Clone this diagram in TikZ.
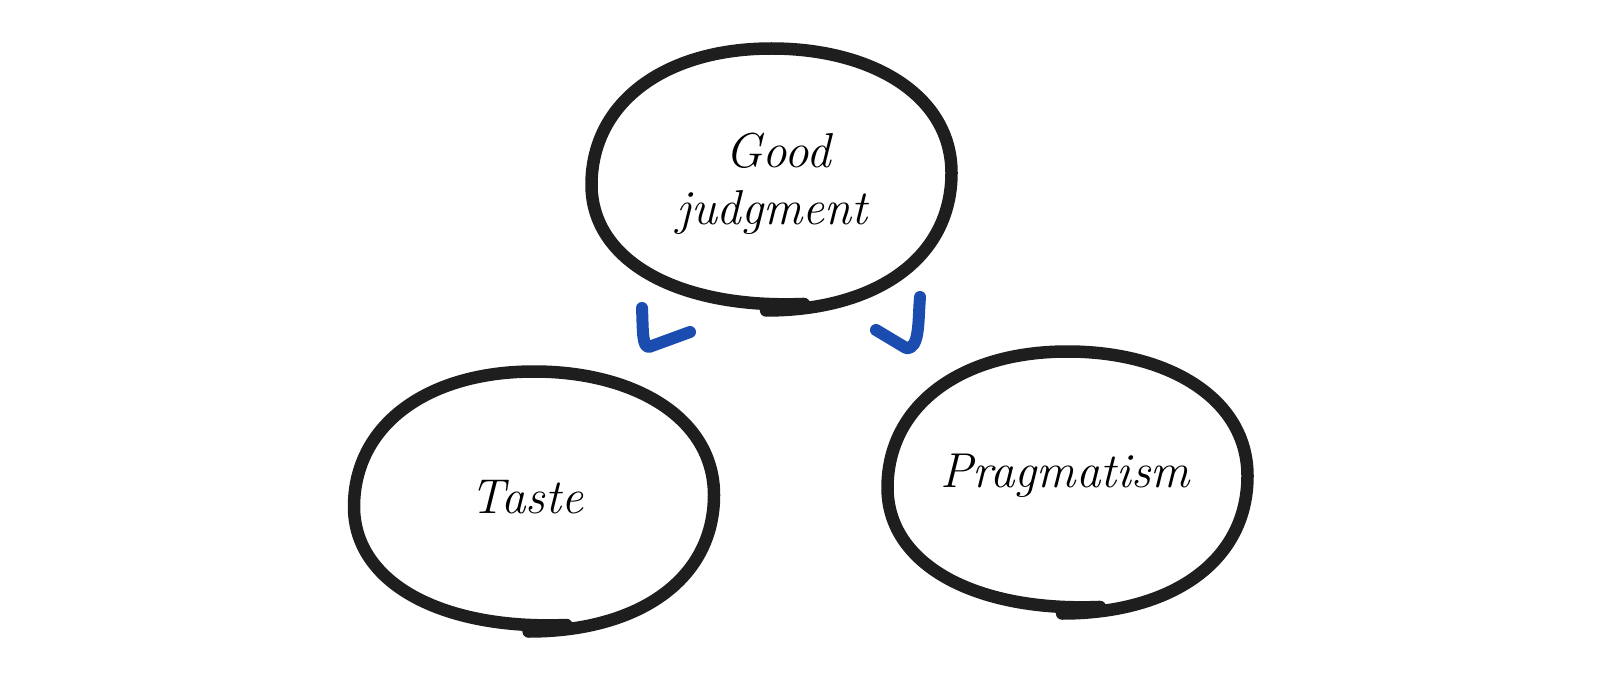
\documentclass[tikz,border=0pt]{standalone}
\usepackage{fontspec}
\definecolor{inkblack}{HTML}{1E1E1E}
\definecolor{markblue}{HTML}{1A4DAF}
\tikzset{
  blobline/.style={line width=12.5pt, draw=inkblack, line cap=round, line join=round},
  blobshape/.pic={
    \draw[blobline] (-0.03,1.0) .. controls (0.58,1.0) and (1.0,0.6) .. (1.0,-0.05)
      .. controls (1.0,-0.64) and (0.56,-1.0) .. (0.0,-1.0)
      .. controls (-0.6,-1.0) and (-1.0,-0.58) .. (-1.0,0.04)
      .. controls (-1.0,0.62) and (-0.52,0.99) .. (0.18,0.95);
  },
  label/.style={font=\fontsize{49}{57}\selectfont\itshape, text=black, inner sep=0pt, align=center},
  tickmark/.style={line width=12pt, draw=markblue, line cap=round, line join=round}
}
\begin{document}
\begin{tikzpicture}[x=1pt,y=-1pt]
\useasboundingbox (0,0) rectangle (1600,676);
% blobs
\pic[xscale=180, yscale=131] at (771.5,179.5) {blobshape};
\pic[xscale=180, yscale=130] at (534,501.5) {blobshape};
\pic[xscale=180, yscale=131] at (1067.5,482.5) {blobshape};
% labels
\node[label, anchor=base] (good) at (778,168) {Good};
\node[label, anchor=base] (judg) at (772,225) {judgment};
\node[label, anchor=base] (taste) at (527,513) {Taste};
\node[label, anchor=base] (prag) at (1065,487) {Pragmatism};
% blue marks
\coordinate (la) at (642,308);
\coordinate (lb) at (649,347);
\coordinate (lc) at (690,332);
\coordinate (ra) at (920,297);
\coordinate (rb) at (906,348);
\coordinate (rc) at (876,330);
\draw[tickmark] (la) .. controls (643,330) and (642,347) .. (lb) -- (lc);
\draw[tickmark] (ra) .. controls (918,320) and (920,350) .. (rb) -- (rc);
\end{tikzpicture}
\end{document}
